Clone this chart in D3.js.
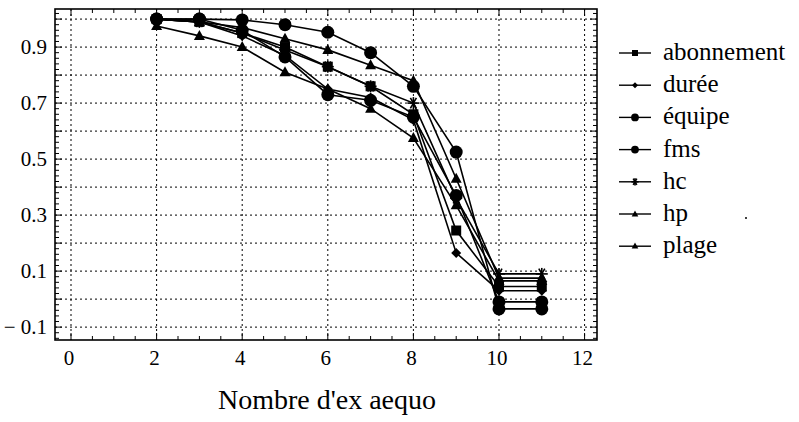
<!DOCTYPE html>
<html><head><meta charset="utf-8">
<script src="https://cdn.jsdelivr.net/npm/d3@7"></script>
<style>body{margin:0;background:#fff}svg{display:block}</style>
</head><body><svg id="c" width="799" height="422"></svg>
<script>
const xValues = [2,3,4,5,6,7,8,9,10,11];
const seriesNames = ["abonnement","durée","équipe","fms","hc","hp","plage"];
const seriesShapes = ["square","diamond","circle","circle","asterisk","triangle","triangle"];
const abonnement = [1.0,0.99,0.95,0.90,0.83,0.76,0.66,0.245,0.045,0.045];
const duree      = [1.0,0.99,0.94,0.87,0.75,0.72,0.64,0.165,0.03,0.03];
const equipe     = [1.0,1.0,0.96,0.865,0.73,0.71,0.65,0.37,-0.01,-0.01];
const fms        = [1.0,1.0,0.997,0.98,0.953,0.88,0.76,0.525,-0.035,-0.035];
const hc         = [1.0,0.99,0.95,0.89,0.83,0.76,0.70,0.36,0.09,0.09];
const hp         = [0.975,0.94,0.90,0.81,0.75,0.68,0.575,0.335,0.065,0.065];
const plage      = [1.0,0.99,0.97,0.93,0.89,0.835,0.78,0.43,0.075,0.075];
const seriesValues = [abonnement,duree,equipe,fms,hc,hp,plage];
const xTicks = [0,2,4,6,8,10,12];
const yTicks = [-0.1,0.1,0.3,0.5,0.7,0.9];
const xLabel = "Nombre d'ex aequo";

const FONT = "Liberation Serif, Times New Roman, DejaVu Serif, Noto Serif, serif";
const svg = d3.select("#c");
const L=55,R=597,T=9,B=340;
const x = d3.scaleLinear().domain([-0.374,12.29]).range([L,R]);
const y = d3.scaleLinear().domain([-0.146,1.036]).range([B,T]);

// grid
const g = svg.append("g");
d3.range(0,13,2).forEach(v=>g.append("line").attr("x1",x(v)).attr("x2",x(v)).attr("y1",T).attr("y2",B)
  .attr("stroke","#000").attr("stroke-width",1).attr("stroke-dasharray","2,3"));
d3.range(-1,11).forEach(i=>{const v=i/10;g.append("line").attr("x1",L).attr("x2",R).attr("y1",y(v)).attr("y2",y(v))
  .attr("stroke","#000").attr("stroke-width",1).attr("stroke-dasharray","2,3");});

// minor ticks
d3.range(-7,52).forEach(i=>{const v=i/50;const yy=y(v);if(yy<T||yy>B)return;const len=(i%5===0)?7:4;
  g.append("line").attr("x1",L).attr("x2",L+len).attr("y1",yy).attr("y2",yy).attr("stroke","#000").attr("stroke-width",1);
  g.append("line").attr("x1",R).attr("x2",R-len).attr("y1",yy).attr("y2",yy).attr("stroke","#000").attr("stroke-width",1);});
d3.range(0,25).forEach(i=>{const v=i/2;const xx=x(v);const len=(v%2===0)?7:4;
  g.append("line").attr("x1",xx).attr("x2",xx).attr("y1",B).attr("y2",B-len).attr("stroke","#000").attr("stroke-width",1);
  g.append("line").attr("x1",xx).attr("x2",xx).attr("y1",T).attr("y2",T+len).attr("stroke","#000").attr("stroke-width",1);});

// frame
svg.append("rect").attr("x",L).attr("y",T).attr("width",R-L).attr("height",B-T).attr("fill","none").attr("stroke","#000").attr("stroke-width",1.6);

// tick labels
xTicks.forEach(v=>svg.append("text").attr("font-family",FONT).attr("x",x(v)-2).attr("y",365).attr("text-anchor","middle").attr("font-size",21).text(v));
yTicks.forEach(v=>svg.append("text").attr("font-family",FONT).attr("x",47).attr("y",y(v)+7).attr("text-anchor","end").attr("font-size",21)
  .text(v<0?"\u2212 "+Math.abs(v).toFixed(1):v.toFixed(1)));
svg.append("text").attr("font-family",FONT).attr("x",327).attr("y",409).attr("text-anchor","middle").attr("font-size",28).text(xLabel);

function marker(sel,shape,cx,cy,s){
  if(shape==="circle") sel.append("circle").attr("cx",cx).attr("cy",cy).attr("r",6.5*s).attr("fill","#000");
  else if(shape==="square") sel.append("rect").attr("x",cx-5*s).attr("y",cy-5*s).attr("width",10*s).attr("height",10*s).attr("fill","#000");
  else if(shape==="diamond") sel.append("path").attr("d",`M${cx},${cy-5*s}L${cx+5*s},${cy}L${cx},${cy+5*s}L${cx-5*s},${cy}Z`).attr("fill","#000");
  else if(shape==="triangle") sel.append("path").attr("d",`M${cx},${cy-6*s}L${cx+5.5*s},${cy+4*s}L${cx-5.5*s},${cy+4*s}Z`).attr("fill","#000");
  else if(shape==="asterisk"){const r=6*s;[0,60,120].forEach(a=>{const ra=a*Math.PI/180;
    sel.append("line").attr("x1",cx-r*Math.cos(ra)).attr("y1",cy-r*Math.sin(ra)).attr("x2",cx+r*Math.cos(ra)).attr("y2",cy+r*Math.sin(ra))
    .attr("stroke","#000").attr("stroke-width",1.6);});
    sel.append("line").attr("x1",cx).attr("y1",cy-r).attr("x2",cx).attr("y2",cy+r).attr("stroke","#000").attr("stroke-width",1.6);}
}

const line = d3.line().x(d=>x(d[0])).y(d=>y(d[1]));
const plot = svg.append("g");
seriesValues.forEach((vals,i)=>{
  const pts = xValues.map((xv,j)=>[xv,vals[j]]);
  plot.append("path").attr("d",line(pts)).attr("fill","none").attr("stroke","#000").attr("stroke-width",1.6);
});
seriesValues.forEach((vals,i)=>{
  xValues.forEach((xv,j)=>marker(plot,seriesShapes[i],x(xv),y(vals[j]),1));
});

// legend
const lg = svg.append("g");
seriesNames.forEach((n,i)=>{
  const yy = 53 + i*32.2;
  lg.append("line").attr("x1",619).attr("x2",651).attr("y1",yy).attr("y2",yy).attr("stroke","#000").attr("stroke-width",1.4);
  marker(lg,seriesShapes[i],635,yy,0.6);
  lg.append("text").attr("font-family",FONT).attr("x",663).attr("y",yy+7).attr("font-size",25).text(n);
});
svg.append("circle").attr("cx",746).attr("cy",218).attr("r",1).attr("fill","#000");
</script></body></html>
